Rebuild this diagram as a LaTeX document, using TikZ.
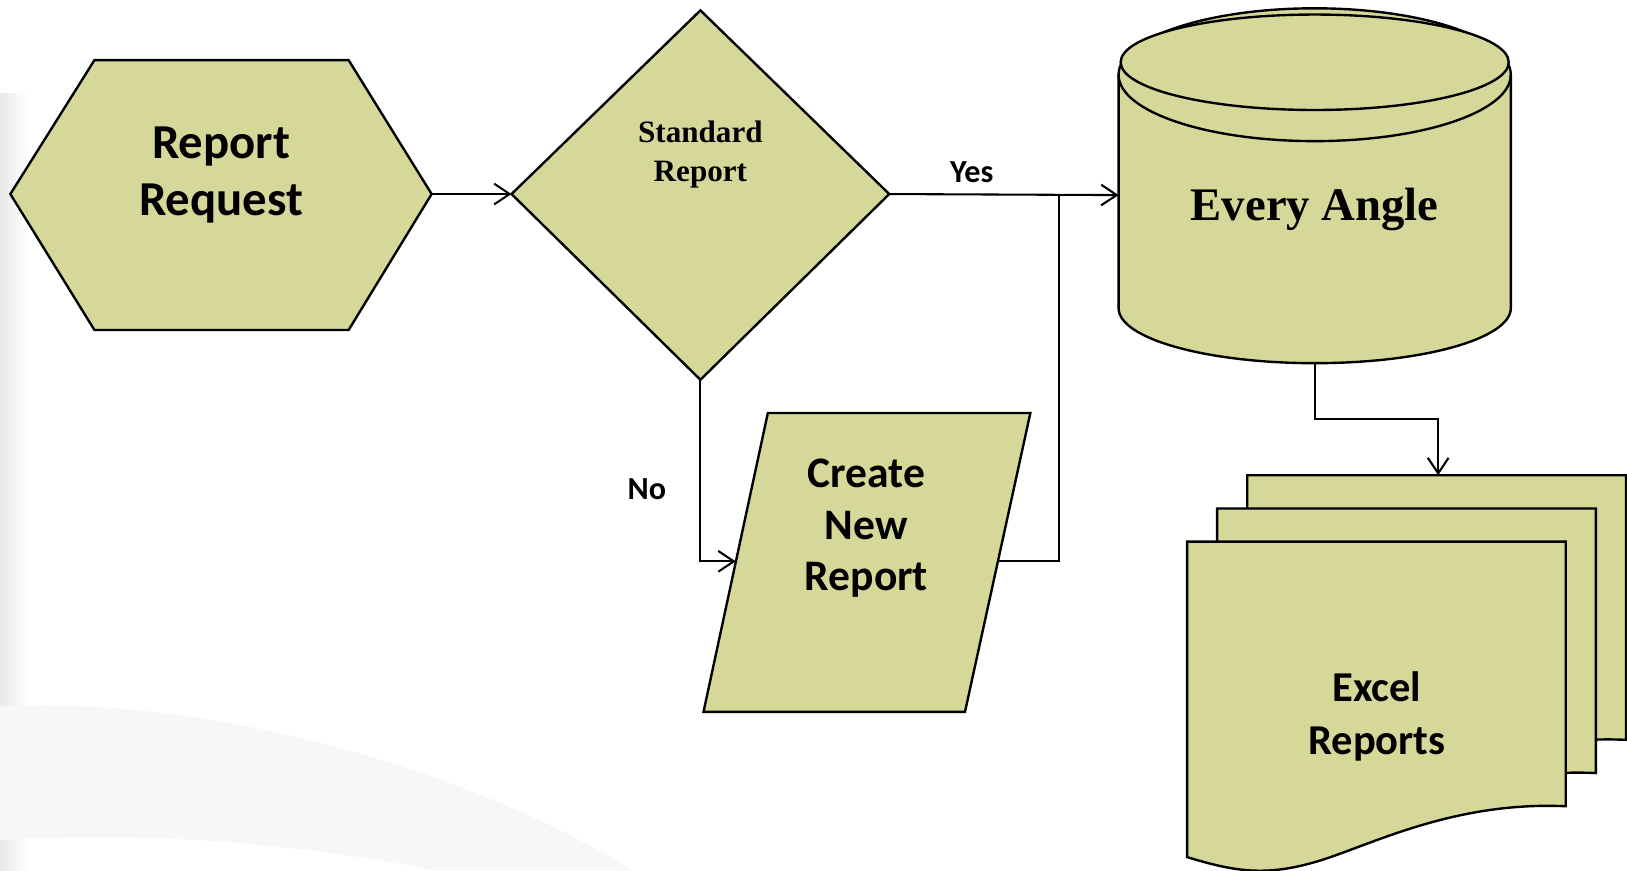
\documentclass[tikz,border=0pt]{standalone}
\usepackage{fontspec}
\setmainfont{Carlito}
\newfontfamily\timesfont{Liberation Serif}
\usetikzlibrary{arrows.meta}
\definecolor{shapefill}{RGB}{213,216,153}

\begin{document}
\begin{tikzpicture}[x=1pt,y=-1pt,
    box/.style={draw=black, fill=shapefill, line width=2.3pt, line join=miter},
    link/.style={draw=black, line width=2pt},
    tip/.style={-{Straight Barb[length=15pt,width=20pt,line width=2pt]}},
    sanstext/.style={align=center, inner sep=0pt, font=\bfseries},
    serftext/.style={align=center, inner sep=0pt, font=\timesfont\bfseries}]
    \useasboundingbox (0,0) rectangle (1568,839);
    % faint background
    \shade [left color=black!9, right color=white] (0,90) rectangle (26,839);
    \fill [black!3] (0,681) .. controls (200,670) and (450,740) .. (610,839) -- (420,839) .. controls (300,815) and (150,800) .. (0,810) -- cycle;
    % report request
    \draw [box] (10,187) -- (91,58) -- (336,58) -- (416,187) -- (336,318) -- (91,318) -- cycle;
    \node [sanstext, font=\fontsize{47}{55}\selectfont\bfseries] (req) at (213,169) {Report\\Request};
    \coordinate (req-e) at (416,187);
    % standard report
    \draw [box] (675,10) -- (857,187) -- (675,366) -- (493,187) -- cycle;
    \node [serftext, font=\fontsize{30}{37}\selectfont\timesfont\bfseries] (std) at (675,149) {Standard\\Report};
    \coordinate (std-w) at (493,187);
    \coordinate (std-e) at (857,187);
    \coordinate (std-s) at (675,366);
    % create new report
    \draw [box] (740,398) -- (993,398) -- (930,686) -- (678,686) -- cycle;
    \node [sanstext, font=\fontsize{42}{50}\selectfont\bfseries] (new) at (835,509) {Create\\New\\Report};
    \coordinate (new-w) at (709,541);
    \coordinate (new-e) at (962,541);
    \coordinate (join) at (1021,188);
    % every angle
    \draw [box] (1078,72) -- (1078,297) arc (180:0:189 and 53) -- (1456,72) arc (0:-180:189 and 64) -- cycle;
    \draw [box, fill=none] (1078,72) arc (180:0:189 and 64);
    \draw [box] (1267,60) ellipse (187 and 46);
    \node [serftext, font=\fontsize{45}{54}\selectfont\timesfont\bfseries] (db) at (1267,202) {Every Angle};
    \coordinate (db-w) at (1078,188);
    \coordinate (db-s) at (1267,350);
    % excel reports
    \foreach \dx/\dy in {58/-64, 29/-32, 0/0}
        \draw [box, xshift=\dx pt, yshift=-\dy pt] (1144,522) -- (1509,522) -- (1509,777) .. controls (1400,772) and (1320,815) .. (1270,830) .. controls (1220,845) and (1190,840) .. (1144,826) -- cycle;
    \node [sanstext, font=\fontsize{41}{51}\selectfont\bfseries] (xls) at (1327,690) {Excel\\Reports};
    \coordinate (xls-n) at (1386,458);
    % connectors
    \draw [link, tip] (req-e) -- (std-w);
    \draw [link, tip] (std-e) -- node [above, pos=0.36, inner sep=10pt, font=\fontsize{31}{36}\selectfont\bfseries] (yes) {Yes} (db-w);
    \draw [link, tip] (std-s) |- node [left=32pt, pos=0.3, inner sep=0pt, font=\fontsize{31}{36}\selectfont\bfseries] (no) {No} (new-w);
    \draw [link] (new-e) -| (join);
    \draw [link, tip] (db-s) -- ++(0,54) -| (xls-n);
\end{tikzpicture}
\end{document}
